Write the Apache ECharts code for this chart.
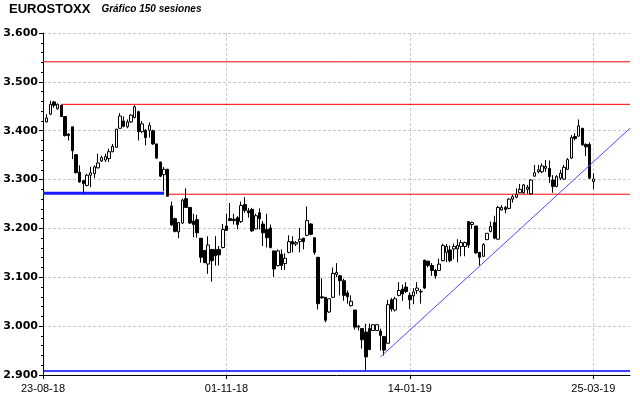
<!DOCTYPE html>
<html>
<head>
<meta charset="utf-8">
<script src="https://cdn.jsdelivr.net/npm/echarts@6/dist/echarts.min.js"></script>
<style>
    html, body { margin: 0; padding: 0; background: #fff; }
    #chart { width: 640px; height: 398px; }
</style>
</head>
<body>
<div id="chart"></div>
<script>
// sesiones: 150 velas + 1 hueco al principio y 10 al final
const sessionCount = 161;
const tickIdx = [0, 50, 100, 150];
const tickText = ["23-08-18", "01-11-18", "14-01-19", "25-03-19"];

// valores de cada sesion (apertura, cierre, minimo, maximo)
const openVals = [
    3418, 3434, 3459, 3445, 3452, 3429, 3393, 3408, 3351, 3315,
    3298, 3288, 3309, 3312, 3324, 3338, 3340, 3343, 3357, 3366,
    3405, 3420, 3408, 3418, 3427, 3439, 3398, 3401, 3401, 3400,
    3373, 3336, 3310, 3321, 3246, 3220, 3193, 3211,
    3261, 3243, 3215, 3218, 3180, 3155, 3127, 3157, 3157, 3157,
    3161, 3205, 3220, 3219, 3222, 3214, 3249, 3236, 3239, 3199,
    3232, 3209, 3198, 3201, 3154, 3124, 3147, 3128, 3151, 3173,
    3168, 3173, 3180, 3186, 3209, 3181, 3141, 3060,
    3059, 3029, 3059, 3106, 3103, 3093, 3068, 3042, 3033, 3000,
    2995, 2988, 2995, 2991, 2991, 2990, 2979, 2965, 3054, 3033,
    3063, 3076, 3080, 3063, 3062, 3073, 3070, 3135, 3133, 3124,
    3114, 3114, 3134, 3151, 3156, 3158, 3158, 3163,
    3163, 3214, 3208, 3205, 3151, 3143, 3177, 3194, 3212, 3178,
    3238, 3243, 3241, 3260, 3264, 3273, 3273, 3280, 3271, 3307,
    3316, 3316, 3323, 3323, 3299, 3286, 3303, 3301, 3321, 3344,
    3388, 3389, 3405, 3372, 3372, 3296
];
const closeVals = [
    3426, 3454, 3452, 3454, 3429, 3390, 3390, 3359, 3314, 3295,
    3292, 3309, 3314, 3326, 3334, 3345, 3347, 3357, 3368, 3403,
    3430, 3409, 3418, 3432, 3449, 3398, 3414, 3386, 3411, 3373,
    3344, 3307, 3321, 3266, 3207, 3194, 3212, 3258,
    3243, 3211, 3208, 3191, 3141, 3130, 3166, 3134, 3144, 3146,
    3198, 3196, 3216, 3216, 3208, 3247, 3237, 3232, 3195, 3226,
    3220, 3191, 3181, 3161, 3117, 3154, 3124, 3139, 3173, 3168,
    3171, 3178, 3173, 3216, 3188, 3151, 3046, 3058,
    3012, 3056, 3108, 3110, 3093, 3063, 3060, 3051, 2998, 2998,
    2972, 2937, 2952, 3003, 3003, 2981, 2951, 3044, 3035, 3056,
    3073, 3066, 3071, 3054, 3070, 3078, 3071, 3078, 3124, 3114,
    3103, 3127, 3165, 3163, 3134, 3163, 3165, 3171,
    3171, 3166, 3212, 3150, 3141, 3167, 3190, 3204, 3180, 3243,
    3243, 3239, 3260, 3265, 3270, 3280, 3289, 3284, 3299, 3314,
    3320, 3328, 3327, 3306, 3286, 3306, 3313, 3325, 3341, 3386,
    3384, 3410, 3371, 3367, 3303, 3301
];
const lowVals = [
    3417, 3432, 3447, 3443, 3428, 3388, 3380, 3342, 3313, 3294,
    3273, 3286, 3284, 3303, 3323, 3336, 3336, 3336, 3356, 3365,
    3404, 3407, 3405, 3416, 3425, 3380, 3395, 3370, 3386, 3371,
    3342, 3305, 3276, 3265, 3206, 3192, 3180, 3209,
    3242, 3209, 3182, 3181, 3130, 3129, 3107, 3091, 3124, 3124,
    3159, 3195, 3215, 3208, 3198, 3211, 3232, 3222, 3193, 3198,
    3198, 3164, 3161, 3159, 3101, 3122, 3115, 3115, 3149, 3151,
    3164, 3151, 3157, 3184, 3186, 3146, 3034, 3056,
    3008, 3027, 3058, 3100, 3063, 3052, 3046, 3040, 2993, 2991,
    2954, 2910, 2951, 2991, 2991, 2950, 2940, 2964, 3030, 3030,
    3061, 3052, 3068, 3035, 3045, 3066, 3046, 3076, 3120, 3103,
    3097, 3113, 3133, 3131, 3131, 3137, 3131, 3143,
    3143, 3160, 3199, 3148, 3124, 3142, 3176, 3192, 3178, 3177,
    3237, 3231, 3239, 3253, 3262, 3272, 3271, 3271, 3269, 3306,
    3313, 3313, 3316, 3293, 3273, 3284, 3299, 3299, 3320, 3342,
    3380, 3388, 3369, 3348, 3301, 3280
];
const highVals = [
    3434, 3461, 3461, 3456, 3453, 3429, 3395, 3408, 3351, 3329,
    3298, 3312, 3326, 3329, 3353, 3349, 3353, 3363, 3373, 3404,
    3436, 3429, 3423, 3434, 3452, 3441, 3420, 3403, 3417, 3402,
    3373, 3336, 3326, 3322, 3255, 3222, 3212, 3261,
    3282, 3243, 3230, 3228, 3180, 3155, 3184, 3157, 3184, 3164,
    3209, 3230, 3252, 3230, 3225, 3255, 3264, 3242, 3242, 3230,
    3241, 3215, 3230, 3208, 3154, 3157, 3157, 3149, 3186, 3184,
    3174, 3201, 3181, 3245, 3211, 3181, 3141, 3098,
    3059, 3056, 3120, 3129, 3105, 3097, 3073, 3063, 3033, 3002,
    2995, 3005, 3005, 3003, 3003, 2995, 2979, 3054, 3058, 3060,
    3090, 3085, 3090, 3069, 3078, 3090, 3076, 3136, 3134, 3129,
    3117, 3138, 3169, 3168, 3165, 3169, 3178, 3176,
    3173, 3215, 3214, 3205, 3151, 3170, 3190, 3214, 3226, 3246,
    3248, 3246, 3262, 3269, 3282, 3291, 3291, 3289, 3301, 3330,
    3330, 3333, 3340, 3339, 3309, 3309, 3320, 3330, 3344, 3391,
    3395, 3423, 3405, 3374, 3376, 3313
];

// niveles horizontales: [valor, desde sesion, hasta sesion]
const redLevels = [[3541, 0, 160], [3454, 5, 160], [3270, 34, 160]];
const blueLevels = [[3272, 0, 33], [2908, 0, 160]];
// linea de tendencia alcista: [sesion, valor]
const trendPoints = [[92.4, 2937], [160, 3405]];

(function () {
    let myChart = echarts.init(document.getElementById("chart"));

    let categories = [];
    for (let i = 0; i < sessionCount; i++) categories.push("s" + i);

    let candles = [];
    for (let i = 0; i < openVals.length; i++) {
        candles.push([i + 1, openVals[i], closeVals[i], lowVals[i], highVals[i]]);
    }

    let levelSeries = function (lv, color, width) {
        return {
            type: "line",
            data: [[lv[1], lv[0]], [lv[2], lv[0]]],
            symbol: "none",
            silent: true,
            z: 3,
            lineStyle: { color: color, width: width, type: "solid" }
        };
    };

    let series = [
        {
            type: "candlestick",
            data: candles,
            encode: { x: 0, y: [1, 2, 3, 4] },
            barWidth: 3,
            z: 4,
            itemStyle: {
                color: "#ffffff",
                color0: "#000000",
                borderColor: "#000000",
                borderColor0: "#000000",
                borderWidth: 1
            }
        }
    ];
    redLevels.forEach(function (lv) { series.push(levelSeries(lv, "#ff0000", 1)); });
    series.push(levelSeries(blueLevels[0], "#1a1aff", 3));
    series.push(levelSeries(blueLevels[1], "#0000ff", 1.5));
    series.push({
        type: "line",
        data: trendPoints,
        symbol: "none",
        silent: true,
        z: 5,
        lineStyle: { color: "#4b4bff", width: 1 }
    });

    let option = {
        animation: false,
        backgroundColor: "#ffffff",
        title: {
            left: 9,
            top: 3,
            padding: 0,
            text: "{a|EUROSTOXX}{b|Gráfico 150 sesiones}",
            textStyle: {
                rich: {
                    a: { fontFamily: "Liberation Sans", fontWeight: "bold", fontSize: 13, color: "#000" },
                    b: { fontFamily: "Liberation Sans", fontStyle: "italic", fontSize: 10, color: "#000", padding: [0, 0, 0, 11] }
                }
            }
        },
        grid: { left: 43, right: 10, top: 33, bottom: 23 },
        xAxis: {
            type: "category",
            data: categories,
            boundaryGap: false,
            axisLine: { lineStyle: { color: "#000", width: 1 } },
            axisTick: { interval: 49, length: 4, lineStyle: { color: "#000" } },
            axisLabel: {
                interval: 49,
                margin: 8,
                fontFamily: "Liberation Sans",
                fontSize: 11,
                color: "#000",
                formatter: function (v, idx) {
                    let k = tickIdx.indexOf(idx);
                    return k >= 0 ? tickText[k] : "";
                }
            },
            splitLine: {
                show: true,
                interval: 49,
                lineStyle: { color: "#d0c8d8", type: [3, 2] }
            }
        },
        yAxis: {
            type: "value",
            min: 2900,
            max: 3600,
            interval: 100,
            axisLine: { show: true, lineStyle: { color: "#000", width: 1 } },
            axisTick: { show: true, length: 4, lineStyle: { color: "#000" } },
            minorTick: { show: true, splitNumber: 5, length: 2, lineStyle: { color: "#000" } },
            axisLabel: {
                margin: 5,
                fontFamily: "DejaVu Sans",
                fontWeight: "bold",
                fontSize: 11,
                color: "#000",
                formatter: function (v) { return (v / 1000).toFixed(3); }
            },
            splitLine: { lineStyle: { color: "#c8c8c8", type: [3, 2] } }
        },
        series: series
    };

    myChart.setOption(option);
    window.addEventListener("resize", function () {
        myChart.resize();
    });
})();
</script>
</body>
</html>
